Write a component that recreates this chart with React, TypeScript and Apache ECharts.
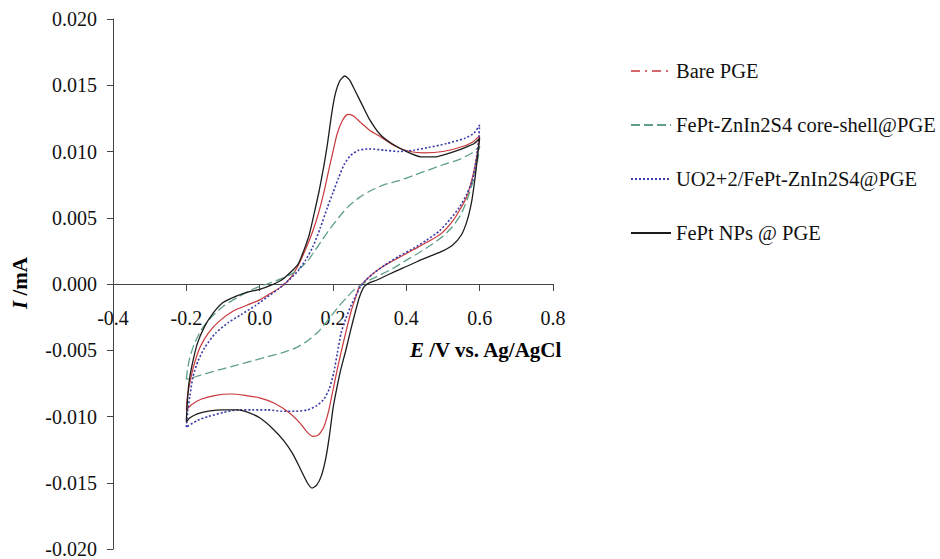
import React, { useEffect, useRef } from "react";
import * as echarts from "echarts";

const FONT = "Liberation Serif, Times New Roman, serif";

const seriesNames = [
  "Bare PGE",
  "FePt-ZnIn2S4 core-shell@PGE",
  "UO2+2/FePt-ZnIn2S4@PGE",
  "FePt NPs @ PGE",
];

// [E (V), I (mA)] — forward scan -0.2 → 0.6, then reverse 0.6 → -0.2
const barePGE = [
  [-0.2, -0.0095], [-0.197, -0.0085], [-0.19, -0.0074], [-0.18, -0.0062], [-0.163, -0.0048],
  [-0.14, -0.0037], [-0.11, -0.0028], [-0.07, -0.002], [-0.035, -0.0016], [0.0, -0.0012],
  [0.03, -0.0007], [0.06, -0.0002], [0.085, 0.0005], [0.105, 0.0014], [0.125, 0.0026],
  [0.145, 0.004], [0.16, 0.0053], [0.175, 0.0069], [0.19, 0.0088], [0.2, 0.01],
  [0.211, 0.0113], [0.225, 0.0123], [0.24, 0.0128], [0.255, 0.0127], [0.275, 0.0122],
  [0.3, 0.0116], [0.33, 0.0111], [0.37, 0.0104], [0.41, 0.01], [0.45, 0.0099],
  [0.5, 0.01], [0.545, 0.0103], [0.58, 0.0107], [0.6, 0.0112],
  [0.595, 0.0101], [0.588, 0.009], [0.578, 0.0078], [0.565, 0.0066], [0.548, 0.0057],
  [0.525, 0.0047], [0.495, 0.0038], [0.46, 0.0032], [0.42, 0.0026], [0.38, 0.002],
  [0.34, 0.0014], [0.31, 0.0008], [0.29, 0.0003], [0.272, -0.0002], [0.262, -0.001],
  [0.25, -0.002], [0.238, -0.0033], [0.225, -0.0048], [0.212, -0.0064], [0.2, -0.008],
  [0.188, -0.0096], [0.175, -0.0108], [0.16, -0.0114], [0.145, -0.0115], [0.13, -0.0112],
  [0.11, -0.0105], [0.08, -0.0097], [0.04, -0.009], [0.0, -0.0086], [-0.04, -0.0084],
  [-0.08, -0.0083], [-0.12, -0.0084], [-0.16, -0.0087], [-0.185, -0.0091], [-0.2, -0.0095],
];

const coreShell = [
  [-0.2, -0.0072], [-0.196, -0.0063], [-0.19, -0.0055], [-0.178, -0.0045], [-0.16, -0.0035],
  [-0.135, -0.0026], [-0.1, -0.0017], [-0.06, -0.001], [-0.02, -0.0004], [0.02, 0.0],
  [0.06, 0.0004], [0.09, 0.0008], [0.11, 0.0012], [0.13, 0.0017], [0.15, 0.0025],
  [0.17, 0.0033], [0.19, 0.0041], [0.215, 0.005], [0.24, 0.0058], [0.27, 0.0065],
  [0.3, 0.007], [0.34, 0.0075], [0.38, 0.0078], [0.42, 0.0082], [0.46, 0.0086],
  [0.5, 0.009], [0.545, 0.0094], [0.58, 0.0099], [0.6, 0.0104],
  [0.595, 0.0094], [0.588, 0.0084], [0.578, 0.0074], [0.565, 0.0063], [0.548, 0.0052],
  [0.525, 0.0043], [0.5, 0.0036], [0.47, 0.003], [0.437, 0.0024], [0.4, 0.0018],
  [0.365, 0.0012], [0.33, 0.0007], [0.3, 0.0003], [0.275, -0.0001], [0.255, -0.0005],
  [0.238, -0.001], [0.215, -0.0017], [0.19, -0.0026], [0.16, -0.0036], [0.13, -0.0043],
  [0.1, -0.0048], [0.06, -0.0052], [0.02, -0.0055], [-0.02, -0.0058], [-0.06, -0.0061],
  [-0.1, -0.0064], [-0.14, -0.0067], [-0.175, -0.007], [-0.2, -0.0072],
];

const uranyl = [
  [-0.2, -0.0108], [-0.196, -0.0095], [-0.19, -0.0084], [-0.182, -0.007], [-0.168, -0.0058],
  [-0.15, -0.0048], [-0.12, -0.0037], [-0.085, -0.0029], [-0.05, -0.0023], [-0.01, -0.0016],
  [0.02, -0.001], [0.05, -0.0004], [0.08, 0.0003], [0.105, 0.001], [0.125, 0.0018],
  [0.145, 0.0028], [0.165, 0.0042], [0.185, 0.0058], [0.2, 0.0069], [0.215, 0.008],
  [0.23, 0.009], [0.248, 0.0097], [0.27, 0.0101], [0.3, 0.0102], [0.34, 0.0101],
  [0.38, 0.01], [0.42, 0.0101], [0.46, 0.0103], [0.51, 0.0106], [0.56, 0.011],
  [0.585, 0.0114], [0.6, 0.012],
  [0.596, 0.0106], [0.59, 0.0093], [0.58, 0.0078], [0.565, 0.0068], [0.545, 0.0058],
  [0.52, 0.0049], [0.49, 0.004], [0.455, 0.0033], [0.42, 0.0027], [0.38, 0.0021],
  [0.34, 0.0014], [0.31, 0.0008], [0.29, 0.0003], [0.275, -0.0002], [0.262, -0.0009],
  [0.248, -0.0017], [0.235, -0.0026], [0.222, -0.0037], [0.212, -0.0052], [0.202, -0.0067],
  [0.19, -0.0079], [0.175, -0.0087], [0.155, -0.0092], [0.13, -0.0095], [0.1, -0.0096],
  [0.06, -0.0096], [0.02, -0.0095], [-0.02, -0.0095], [-0.06, -0.0095], [-0.1, -0.0097],
  [-0.14, -0.01], [-0.17, -0.0103], [-0.2, -0.0108],
];

const fePtNPs = [
  [-0.2, -0.0104], [-0.198, -0.0092], [-0.193, -0.0075], [-0.185, -0.0062], [-0.17, -0.0045],
  [-0.15, -0.0032], [-0.127, -0.0022], [-0.1, -0.0014], [-0.062, -0.0009], [-0.03, -0.0006],
  [0.0, -0.0004], [0.03, -0.0001], [0.06, 0.0003], [0.085, 0.0009], [0.105, 0.0015],
  [0.12, 0.0025], [0.135, 0.0037], [0.15, 0.0055], [0.162, 0.007], [0.175, 0.0089],
  [0.185, 0.0106], [0.195, 0.0126], [0.205, 0.0142], [0.218, 0.0153], [0.232, 0.0157],
  [0.245, 0.0154], [0.26, 0.0146], [0.28, 0.0135], [0.3, 0.0124], [0.328, 0.0113],
  [0.36, 0.0106], [0.4, 0.01], [0.44, 0.0096], [0.48, 0.0096], [0.52, 0.0099],
  [0.56, 0.0103], [0.585, 0.0106], [0.6, 0.011],
  [0.595, 0.0098], [0.59, 0.0086], [0.585, 0.0075], [0.578, 0.0062], [0.566, 0.0048],
  [0.55, 0.0037], [0.525, 0.0029], [0.5, 0.0025], [0.465, 0.0021], [0.43, 0.0017],
  [0.39, 0.0012], [0.35, 0.0007], [0.32, 0.0003], [0.3, 0.0001], [0.285, -0.0002],
  [0.272, -0.001], [0.26, -0.0022], [0.248, -0.0035], [0.235, -0.005], [0.22, -0.0066],
  [0.208, -0.0082], [0.2, -0.0094], [0.19, -0.0115], [0.18, -0.0132], [0.168, -0.0145],
  [0.155, -0.0152], [0.143, -0.0154], [0.13, -0.015], [0.11, -0.0139], [0.09, -0.0128],
  [0.065, -0.0118], [0.035, -0.0109], [0.0, -0.0101], [-0.03, -0.0097], [-0.06, -0.0095],
  [-0.1, -0.0095], [-0.14, -0.0096], [-0.17, -0.0098], [-0.19, -0.0101], [-0.2, -0.0104],
];

const seriesData = [barePGE, coreShell, uranyl, fePtNPs];
const seriesColors = ["#c9373b", "#5f9f88", "#3a3aa8", "#1c1c1c"];

export default function App() {
  const ref = useRef<HTMLDivElement>(null);

  useEffect(() => {
    document.body.style.margin = "0";
    const chart = echarts.init(ref.current as HTMLDivElement, null, { renderer: "svg" });

    const lineStyles: any[] = [
      { color: seriesColors[0], width: 1.2, type: "solid" },
      { color: seriesColors[1], width: 1.3, type: [9, 4] },
      { color: seriesColors[2], width: 1.6, type: [2, 2] },
      { color: seriesColors[3], width: 1.3, type: "solid" },
    ];

    const rich = {
      i: { fontFamily: FONT, fontSize: 21, fontWeight: "bold", fontStyle: "italic", fill: "#000", color: "#000" },
      b: { fontFamily: FONT, fontSize: 21, fontWeight: "bold", fill: "#000", color: "#000" },
    };

    chart.setOption({
      animation: false,
      backgroundColor: "#fff",
      textStyle: { fontFamily: FONT },
      grid: { left: 113, right: 387, top: 19, bottom: 10, containLabel: false, outerBoundsMode: "none" },
      legend: {
        orient: "vertical",
        left: 625,
        top: 55,
        itemWidth: 40,
        itemHeight: 14,
        itemGap: 32,
        itemStyle: { opacity: 0 },
        textStyle: { fontFamily: FONT, fontSize: 20.5, color: "#111", lineHeight: 22 },
        data: seriesNames.map((n, i) =>
          i === 0
            ? { name: n, lineStyle: { type: [9, 5, 2, 5], width: 1.3 } }
            : { name: n }
        ),
      },
      xAxis: {
        type: "value",
        min: -0.4,
        max: 0.8,
        interval: 0.2,
        position: "bottom",
        offset: -265,
        axisLine: { onZero: false, lineStyle: { color: "#444", width: 1 } },
        axisTick: { show: true, length: 7, lineStyle: { color: "#444" } },
        axisLabel: {
          margin: 24,
          fontSize: 20,
          fontFamily: FONT,
          color: "#111",
          formatter: (v: number) => (Math.abs(v) < 1e-9 ? "0.0" : v.toFixed(1)),
        },
        splitLine: { show: false },
      },
      yAxis: {
        type: "value",
        min: -0.02,
        max: 0.02,
        interval: 0.005,
        axisLine: { show: true, onZero: false, lineStyle: { color: "#444", width: 1 } },
        axisTick: { show: true, length: 6, lineStyle: { color: "#444" } },
        axisLabel: {
          margin: 16,
          fontSize: 20,
          fontFamily: FONT,
          color: "#111",
          formatter: (v: number) => (Math.abs(v) < 1e-9 ? "0.000" : v.toFixed(3)),
        },
        splitLine: { show: false },
      },
      graphic: [
        {
          type: "text",
          left: 410,
          top: 339,
          style: { text: "{i|E}{b| /V vs. Ag/AgCl}", rich, fill: "#000" },
        },
        {
          type: "text",
          x: 20,
          y: 283,
          rotation: Math.PI / 2,
          style: { text: "{i|I}{b| /mA}", rich, align: "center", verticalAlign: "middle", fill: "#000" },
        },
      ],
      series: seriesNames.map((n, i) => ({
        type: "line",
        name: n,
        data: seriesData[i],
        symbol: "none",
        showSymbol: false,
        smooth: 0.2,
        color: seriesColors[i],
        lineStyle: lineStyles[i],
        z: i === 3 ? 5 : 3,
      })),
    });

    return () => chart.dispose();
  }, []);

  return <div ref={ref} style={{ width: 940, height: 559 }} />;
}
